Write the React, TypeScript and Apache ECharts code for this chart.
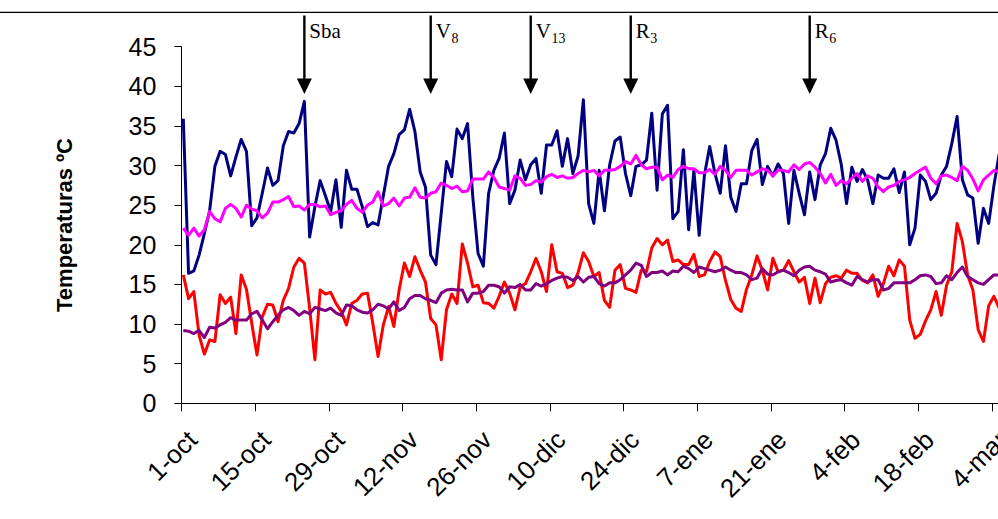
import React, { useEffect, useRef } from 'react';
import * as echarts from 'echarts';

// Tick labels every 14 days starting on 1-oct
const TICK_LABELS = ['1-oct', '15-oct', '29-oct', '12-nov', '26-nov', '10-dic', '24-dic', '7-ene', '21-ene', '4-feb', '18-feb', '4-mar'];

// Daily maximum temperature (navy)
const TMAX = [
  35.9, 16.4, 16.7, 18.7, 21.4, 24.3, 29.9, 31.8, 31.4, 28.7,
  31.1, 33.3, 31.8, 22.4, 23.4, 26.5, 29.7, 27.5, 28.1, 32.5,
  34.3, 34.1, 35.3, 38.1, 21.0, 24.8, 28.1, 26.2, 24.2, 28.2,
  22.2, 29.4, 27.0, 27.0, 24.8, 22.3, 22.8, 22.5, 26.2, 29.9,
  31.5, 33.9, 34.5, 37.1, 34.3, 29.2, 27.3, 18.7, 17.5, 24.0,
  30.5, 28.6, 34.6, 33.4, 35.3, 26.0, 18.9, 17.3, 26.5, 29.4,
  30.9, 34.1, 25.2, 26.9, 30.7, 28.2, 30.1, 30.9, 26.5, 32.6,
  32.6, 34.4, 29.9, 33.4, 29.0, 31.2, 38.3, 25.2, 22.7, 29.4,
  24.3, 30.1, 33.1, 33.6, 29.0, 26.2, 29.9, 30.1, 30.7, 36.6,
  26.9, 36.5, 37.6, 23.3, 24.2, 32.0, 21.9, 29.4, 21.2, 28.8,
  32.4, 29.0, 26.5, 32.5, 26.0, 24.2, 27.7, 27.7, 31.9, 33.3,
  27.6, 29.9, 28.7, 30.2, 29.0, 22.7, 29.4, 26.5, 23.8, 29.2,
  25.7, 30.1, 31.5, 34.7, 33.2, 30.1, 25.2, 29.8, 28.0, 29.5,
  28.2, 25.2, 28.8, 28.4, 28.4, 29.6, 26.6, 29.2, 20.0, 22.1,
  28.8, 28.0, 25.7, 26.5, 28.8, 29.9, 32.8, 36.2, 28.2, 26.3,
  25.9, 20.2, 24.6, 22.7, 27.5, 31.5,
];

// Smoothed maximum temperature (magenta)
const TMAX_AVG = [
  22.1, 21.2, 22.1, 21.1, 21.9, 24.2, 23.3, 22.9, 24.6, 25.1,
  24.6, 23.5, 25.0, 24.5, 24.3, 23.4, 24.0, 25.4, 25.4, 25.7,
  26.1, 24.8, 24.9, 24.4, 25.1, 25.1, 24.8, 24.9, 23.8, 24.1,
  24.3, 25.1, 25.6, 24.6, 24.1, 25.0, 25.4, 26.7, 24.9, 25.2,
  25.9, 24.9, 25.9, 26.0, 27.2, 26.0, 25.9, 26.5, 26.7, 27.8,
  27.5, 27.1, 27.4, 26.7, 26.8, 28.3, 28.3, 28.3, 29.2, 28.5,
  27.3, 27.1, 26.9, 28.7, 28.4, 27.5, 27.6, 28.1, 27.9, 28.6,
  28.9, 28.5, 28.7, 28.4, 28.5, 29.0, 29.4, 29.2, 29.4, 28.7,
  29.4, 29.4, 29.5, 29.9, 30.5, 30.2, 31.3, 30.1, 29.6, 29.8,
  29.8, 28.2, 28.8, 28.5, 29.5, 29.9, 29.6, 29.6, 29.1, 29.1,
  29.5, 28.9, 29.9, 29.4, 28.5, 29.4, 29.4, 29.4, 28.8, 29.2,
  29.6, 29.4, 28.7, 29.4, 29.4, 29.2, 30.1, 29.5, 30.2, 30.4,
  29.8, 29.0, 27.8, 28.9, 27.5, 28.1, 27.7, 28.4, 29.0, 28.0,
  28.7, 28.4, 27.3, 26.7, 27.3, 27.5, 28.0, 28.2, 28.5, 29.0,
  29.4, 29.8, 28.4, 27.7, 28.7, 28.8, 28.5, 28.1, 29.9, 29.4,
  28.3, 26.8, 28.2, 28.8, 29.4, 29.2,
];

// Daily minimum temperature (red)
const TMIN = [
  16.2, 13.2, 14.1, 8.6, 6.2, 8.0, 7.8, 13.7, 12.6, 13.4,
  8.8, 16.2, 14.4, 10.1, 6.1, 10.9, 12.5, 12.4, 10.3, 13.0,
  14.5, 17.2, 18.3, 17.7, 12.0, 5.5, 14.3, 13.8, 14.0, 12.6,
  11.6, 9.9, 12.6, 13.0, 13.8, 13.9, 10.1, 5.9, 9.9, 12.2,
  9.7, 14.3, 17.7, 16.0, 18.5, 16.8, 15.3, 10.7, 9.9, 5.5,
  11.8, 13.8, 12.6, 20.1, 17.7, 14.7, 14.9, 12.7, 12.6, 12.0,
  13.5, 15.3, 13.9, 11.8, 14.7, 15.1, 16.6, 18.3, 16.6, 14.1,
  20.0, 16.6, 16.4, 14.6, 14.9, 16.5, 19.0, 17.9, 16.0, 16.5,
  13.0, 12.1, 16.8, 17.5, 14.5, 14.3, 14.0, 16.8, 16.6, 19.6,
  20.8, 20.0, 20.6, 17.9, 18.1, 17.5, 17.5, 18.8, 16.0, 16.2,
  17.9, 19.1, 18.5, 15.5, 13.1, 12.0, 11.6, 14.4, 16.2, 18.6,
  16.8, 14.3, 18.3, 16.6, 16.8, 18.0, 16.6, 15.3, 15.9, 12.6,
  15.8, 12.7, 15.1, 15.9, 16.1, 15.8, 16.8, 16.4, 16.4, 15.5,
  15.2, 16.2, 13.5, 15.1, 17.3, 16.1, 18.1, 17.3, 10.5, 8.2,
  8.7, 10.4, 11.8, 14.1, 11.1, 14.9, 16.6, 22.7, 20.4, 16.2,
  14.3, 9.3, 7.8, 12.3, 13.5, 12.0,
];

// Smoothed minimum temperature (purple)
const TMIN_AVG = [
  9.2, 9.1, 8.8, 9.2, 8.3, 9.6, 9.5, 9.9, 10.2, 10.8,
  10.5, 10.5, 10.5, 11.3, 11.6, 10.5, 9.4, 10.3, 11.1, 11.8,
  12.1, 11.7, 11.1, 11.6, 11.3, 12.1, 11.9, 11.7, 12.0, 11.4,
  11.1, 12.4, 12.3, 11.8, 11.5, 11.4, 11.8, 12.5, 12.3, 11.9,
  12.8, 11.7, 12.1, 13.2, 13.6, 13.6, 13.2, 13.0, 12.7, 13.9,
  14.3, 14.4, 14.3, 14.3, 12.8, 13.9, 13.9, 14.1, 14.9, 14.9,
  14.7, 13.9, 14.7, 14.6, 15.0, 14.3, 14.3, 15.1, 14.8, 15.1,
  15.5, 15.8, 16.0, 15.9, 15.5, 16.0, 15.3, 15.9, 16.0, 15.1,
  14.8, 15.2, 15.2, 15.6, 16.2, 16.8, 17.7, 17.4, 16.0, 16.5,
  16.5, 16.7, 16.2, 16.7, 16.6, 17.3, 17.0, 16.5, 17.2, 17.0,
  16.8, 16.6, 16.8, 17.2, 16.8, 16.5, 16.5, 16.2, 15.6, 15.8,
  17.0, 16.3, 16.2, 16.6, 16.8, 16.5, 16.1, 16.8, 17.2, 17.3,
  16.8, 16.6, 16.3, 15.3, 15.5, 15.6, 15.2, 14.9, 16.0, 15.6,
  15.3, 15.6, 15.6, 14.3, 14.5, 15.2, 15.2, 15.2, 15.2, 15.6,
  16.1, 16.2, 16.0, 15.1, 15.2, 16.1, 15.6, 16.5, 17.2, 16.0,
  15.6, 15.2, 15.0, 15.6, 16.2, 16.2,
];

// Phenological stages marked with arrows (day index from 1-oct)
const STAGE_MAIN = ['Sba', 'V', 'V', 'R', 'R'];
const STAGE_SUB = ['', '8', '13', '3', '6'];
const STAGE_DAYS = [23, 47, 66, 85, 119];

const W = 998;
const H = 519;
const CANVAS_W = 1080;
const GRID_LEFT = 181.4;
const GRID_TOP = 46.7;
const GRID_HEIGHT = 356.6;
const X_MAX = 168;
const PX_PER_DAY = 5.264;
const GRID_WIDTH = X_MAX * PX_PER_DAY;
const DAY_OFFSET = 0.36;
const LABEL_SHIFT = 11;

const SANS = '"Liberation Sans", Arial, Helvetica, sans-serif';
const SERIF = '"Liberation Serif", "Times New Roman", serif';

function buildGraphics() {
  const els: any[] = [
    {
      type: 'line',
      shape: { x1: 0, y1: 12.4, x2: W, y2: 12.4 },
      style: { stroke: '#000', lineWidth: 1.3 },
      silent: true,
    },
  ];
  STAGE_DAYS.forEach((d, i) => {
    const x = GRID_LEFT + (d + DAY_OFFSET) * PX_PER_DAY;
    els.push({
      type: 'line',
      shape: { x1: x, y1: 15.5, x2: x, y2: 81 },
      style: { stroke: '#000', lineWidth: 2.4 },
      silent: true,
    });
    els.push({
      type: 'polygon',
      shape: { points: [[x - 7.5, 78.5], [x + 7.5, 78.5], [x, 94]] },
      style: { fill: '#000' },
      silent: true,
    });
    const main = STAGE_MAIN[i];
    const mainW = main === 'Sba' ? 32 : main === 'V' ? 15.2 : 14;
    els.push({
      type: 'text',
      x: x + 5,
      y: 41,
      style: {
        text: main,
        fontSize: 21,
        fontFamily: SERIF,
        fill: '#000',
        align: 'left',
        verticalAlign: 'bottom',
        textAlign: 'left',
        textVerticalAlign: 'bottom',
      },
      silent: true,
    });
    if (STAGE_SUB[i]) {
      els.push({
        type: 'text',
        x: x + 5 + mainW + 0.5,
        y: 45,
        style: {
          text: STAGE_SUB[i],
          fontSize: 14,
          fontFamily: SERIF,
          fill: '#000',
          align: 'left',
          verticalAlign: 'bottom',
          textAlign: 'left',
          textVerticalAlign: 'bottom',
        },
        silent: true,
      });
    }
  });
  return els;
}

function toXY(arr: number[]) {
  return arr.map((v, i) => [i + DAY_OFFSET, v]);
}

const tickFormatter = (v: number) => {
  const k = Math.round(v / 14);
  return Math.abs(v - k * 14) < 1e-6 && TICK_LABELS[k] ? TICK_LABELS[k] : '';
};

export default function App() {
  const ref = useRef<HTMLDivElement>(null);
  useEffect(() => {
    if (!ref.current) return;
    const chart = echarts.init(ref.current, undefined, { renderer: 'svg' });
    const lineSeries = (name: string, data: number[], color: string, width: number) => ({
      name,
      type: 'line',
      data: toXY(data),
      showSymbol: false,
      symbol: 'none',
      clip: true,
      lineStyle: { color, width, join: 'round' },
      itemStyle: { color },
    });
    chart.setOption({
      animation: false,
      backgroundColor: '#fff',
      grid: [
        { left: GRID_LEFT, top: GRID_TOP, width: GRID_WIDTH, height: GRID_HEIGHT },
        { left: GRID_LEFT + LABEL_SHIFT, top: GRID_TOP, width: GRID_WIDTH, height: GRID_HEIGHT },
      ],
      xAxis: [
        {
          type: 'value',
          gridIndex: 0,
          min: 0,
          max: X_MAX,
          interval: 14,
          axisLine: { show: true, lineStyle: { color: '#000', width: 1 } },
          axisTick: { show: true, inside: false, length: 8, lineStyle: { color: '#000' } },
          splitLine: { show: false },
          axisLabel: { show: false },
        },
        {
          type: 'value',
          gridIndex: 1,
          min: 0,
          max: X_MAX,
          interval: 14,
          axisLine: { show: false },
          axisTick: { show: false },
          splitLine: { show: false },
          axisLabel: {
            rotate: 45,
            margin: 32,
            fontSize: 26,
            fontFamily: SANS,
            color: '#000',
            formatter: tickFormatter,
          },
        },
      ],
      yAxis: [
        {
          type: 'value',
          gridIndex: 0,
          min: 0,
          max: 45,
          interval: 5,
          name: 'Temperaturas ºC',
          nameLocation: 'middle',
          nameRotate: 90,
          nameGap: 106,
          nameTextStyle: { fontSize: 22, fontWeight: 'bold', fontFamily: SANS, color: '#000' },
          axisLine: { show: true, lineStyle: { color: '#000', width: 1 } },
          axisTick: { show: true, inside: false, length: 7, lineStyle: { color: '#000' } },
          splitLine: { show: false },
          axisLabel: { margin: 25, fontSize: 25, fontFamily: SANS, color: '#000' },
        },
        {
          type: 'value',
          gridIndex: 1,
          min: 0,
          max: 45,
          show: false,
        },
      ],
      series: [
        lineSeries('Tmax', TMAX, '#000080', 3),
        lineSeries('Tmin', TMIN, '#FF0000', 3),
        lineSeries('Tmax media', TMAX_AVG, '#FF00FF', 3),
        lineSeries('Tmin media', TMIN_AVG, '#800080', 3),
      ],
      graphic: { elements: buildGraphics() },
    });
    return () => chart.dispose();
  }, []);
  return (
    <div style={{ position: 'fixed', left: 0, top: 0, width: W, height: H, overflow: 'hidden', background: '#fff' }}>
      <div ref={ref} style={{ width: CANVAS_W, height: H }} />
    </div>
  );
}
